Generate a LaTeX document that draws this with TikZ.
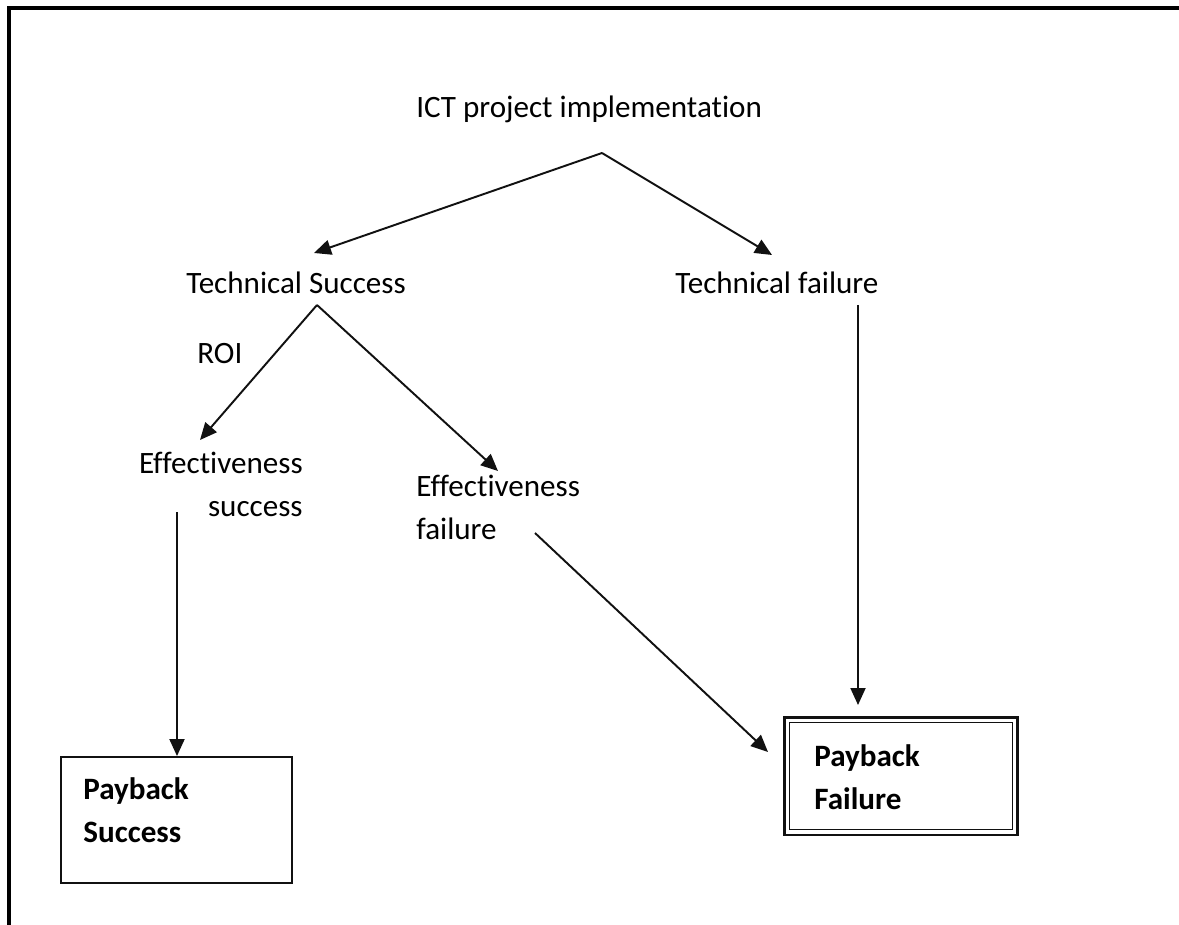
\documentclass[tikz,border=0pt]{standalone}
\usepackage{fontspec}
\setmainfont{Carlito}[Ligatures=CommonOff]
\usetikzlibrary{arrows.meta}

\definecolor{Ink}{HTML}{111111}

\begin{document}
\begin{tikzpicture}[x=0.02cm, y=-0.02cm,
  arr/.style={-{Triangle[length=0.34cm, width=0.3cm]}, line width=1.1pt, color=Ink},
  lbl/.style={anchor=base west, inner sep=0pt, font=\fontsize{17.7}{24}\selectfont},
  blbl/.style={lbl, font=\fontsize{17.7}{24}\selectfont\bfseries},
  box/.style={draw=Ink, line width=1.1pt, inner sep=0pt}]

 \useasboundingbox (0,0) rectangle (1179,925);

 %%%%%%%%%%%%%%%% FRAME %%%%%%%%%%%%%%%%
 \draw [line width=1.8pt] (9,925) -- (9,8) -- (1179,8);

 %%%%%%%%%%%%%%%% LABELS %%%%%%%%%%%%%%%%
 % (two-line labels sit on the baseline of their last line)
 \node[lbl] (ict) at (416,118) {ICT project implementation};
 \node[lbl] (tsucc) at (186,294) {Technical Success};
 \node[lbl] (tfail) at (675,294) {Technical failure};
 \node[lbl] (roi) at (197,364) {ROI};
 \node[lbl, align=right, anchor=base east] (esucc) at (303,516) {Effectiveness\\success};
 \node[lbl, align=left] (efail) at (416,539) {Effectiveness\\failure};

 %%%%%%%%%%%%%%%% PAYBACK BOXES %%%%%%%%%%%%%%%%
 \node[box, minimum width=4.62cm, minimum height=2.52cm] (psucc) at (176.5,820) {};
 \node[blbl, align=left] (psucctxt) at (83,842) {Payback\\Success};

 \node[box, line width=1.7pt, minimum width=4.68cm, minimum height=2.36cm] (pfail) at (901,776) {};
 \draw [Ink, line width=0.9pt] ([shift={(7,7)}]pfail.north west) rectangle ([shift={(-7,-7)}]pfail.south east);
 \node[blbl, align=left] (pfailtxt) at (814,809) {Payback\\Failure};

 %%%%%%%%%%%%%%%% Points for the arrows %%%%%%%%%%%%%%%%
 \coordinate (ictfork) at (602,153);
 \coordinate (tsucctip) at (314,253);
 \coordinate (tfailtip) at (772,255);
 \coordinate (tsuccfork) at (317,305);
 \coordinate (esucctip) at (200,440);
 \coordinate (efailtip) at (498,471);
 \coordinate (esuccstem) at (177,512);
 \coordinate (efailstem) at (535,533);
 \coordinate (pfailside) at (768,752);
 \coordinate (tfailstem) at (858,305);
 \coordinate (pfailtop) at (858,705);

 % Arrows
 \draw [arr] (ictfork) -- (tsucctip);
 \draw [arr] (ictfork) -- (tfailtip);
 \draw [arr] (tsuccfork) -- (esucctip);
 \draw [arr] (tsuccfork) -- (efailtip);
 \draw [arr] (esuccstem) -- (psucc.north -| esuccstem);
 \draw [arr] (efailstem) -- (pfailside);
 \draw [arr] (tfailstem) -- (pfailtop);

\end{tikzpicture}
\end{document}
